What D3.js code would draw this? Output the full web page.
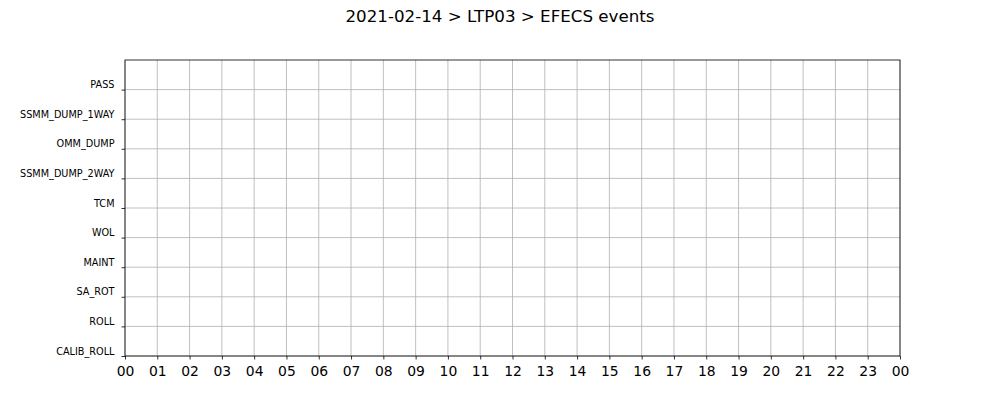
<!DOCTYPE html>
<html><head><meta charset="utf-8">
<script src="https://cdn.jsdelivr.net/npm/d3@7"></script>
<style>body{margin:0;background:#fff}svg{display:block}text{font-family:"DejaVu Sans",sans-serif}</style>
</head><body><svg id="c" width="1000" height="400"></svg>
<script>
const title = "2021-02-14 > LTP03 > EFECS events";
const categories = ["CALIB_ROLL","ROLL","SA_ROT","MAINT","WOL","TCM","SSMM_DUMP_2WAY","OMM_DUMP","SSMM_DUMP_1WAY","PASS"];
const hourTicks = ["00","01","02","03","04","05","06","07","08","09","10","11","12","13","14","15","16","17","18","19","20","21","22","23","00"];
const events = []; // no events on this day

const svg = d3.select("#c");
const L = 125, R = 900, T = 60, B = 356;
const x = d3.scaleLinear().domain([0, 24]).range([L, R]);
const y = d3.scaleLinear().domain([0, categories.length]).range([B, T]);

svg.append("text").attr("x", 500).attr("y", 22).attr("text-anchor", "middle")
  .attr("font-size", "16.7px").attr("fill", "#000").text(title);

// grid
const g = svg.append("g");
g.selectAll(".vg").data(d3.range(0, 25)).join("line")
  .attr("x1", d => x(d)).attr("x2", d => x(d)).attr("y1", T).attr("y2", B)
  .attr("stroke", "#b0b0b0").attr("stroke-width", 0.8);
g.selectAll(".hg").data(d3.range(0, categories.length)).join("line")
  .attr("x1", L).attr("x2", R).attr("y1", d => y(d)).attr("y2", d => y(d))
  .attr("stroke", "#b0b0b0").attr("stroke-width", 0.8);

// x axis
const xa = svg.append("g").attr("transform", `translate(0,${B})`)
  .call(d3.axisBottom(x).tickValues(d3.range(0, 25)).tickFormat((d, i) => hourTicks[i]).tickSize(3.5).tickPadding(6.5));
xa.select(".domain").remove();
xa.selectAll("text").attr("font-size", "13.9px").attr("fill", "#000").style("font-family", "DejaVu Sans");
xa.selectAll("line").attr("stroke", "#000").attr("stroke-width", 0.8);

// y axis
const ya = svg.append("g").attr("transform", `translate(${L},0)`)
  .call(d3.axisLeft(y).tickValues(d3.range(0, categories.length)).tickFormat(d => categories[d]).tickSize(3.5).tickPadding(7));
ya.select(".domain").remove();
ya.selectAll("text").attr("font-size", "9.7px").attr("fill", "#000").attr("dy", "-2").attr("dominant-baseline", "alphabetic")
  .style("font-family", "DejaVu Sans");
ya.selectAll("line").attr("stroke", "#000").attr("stroke-width", 0.8);

// frame
svg.append("rect").attr("x", L).attr("y", T).attr("width", R - L).attr("height", B - T)
  .attr("fill", "none").attr("stroke", "#000").attr("stroke-width", 0.8);
</script></body></html>
